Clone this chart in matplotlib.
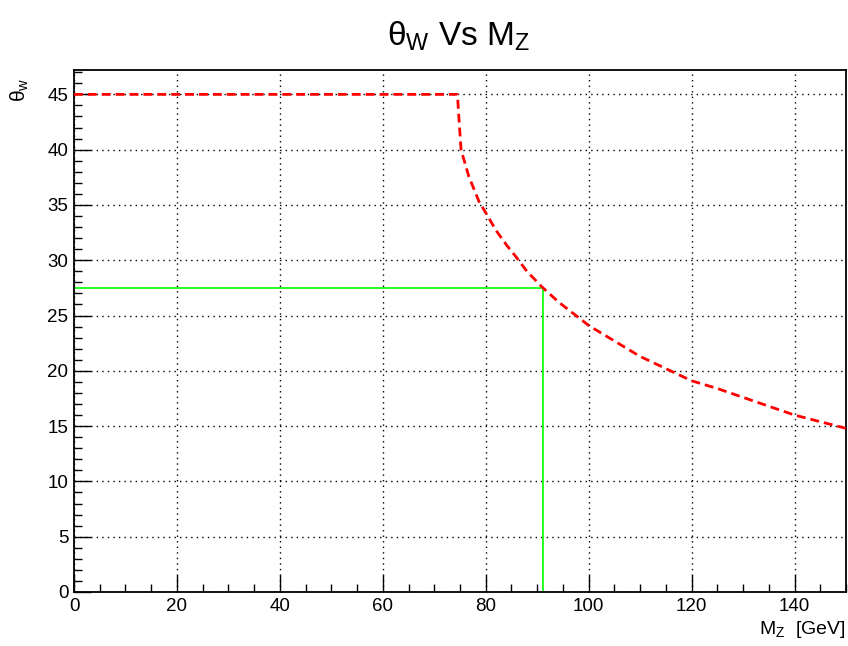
import matplotlib
matplotlib.use("Agg")
import matplotlib.pyplot as plt
from matplotlib.ticker import MultipleLocator

plt.rcParams['font.family'] = ['Liberation Sans', 'DejaVu Sans']
plt.rcParams['mathtext.fontset'] = 'custom'
plt.rcParams['mathtext.rm'] = 'Liberation Sans'
plt.rcParams['mathtext.it'] = 'Liberation Sans'

# Red curve: theta_W vs M_Z
mz = [0, 10, 20, 30, 40, 50, 60, 70, 74.5, 74.8, 75.2, 76.7, 78.7, 80, 82, 84, 85.9,
      88, 90.9, 94.2, 98.1, 100, 105, 110, 115, 120, 125, 130, 135, 140, 145, 150]
theta = [45, 45, 45, 45, 45, 45, 45, 45, 45, 42.8, 40, 37.6, 35.3, 34.3, 32.7, 31.4, 30.3,
         29.0, 27.6, 26.2, 24.8, 24.1, 22.7, 21.3, 20.2, 19.1, 18.4, 17.6, 16.8, 16.0, 15.4, 14.8]

# Green marker lines at the measured Z mass
mz_meas = 91.19
theta_meas = 27.5

fig = plt.figure(figsize=(8.48, 6.46), dpi=100)
ax = fig.add_axes([74/848, 1-592/646, (846-74)/848, (592-69.5)/646])

ax.plot(mz, theta, color='#ff0000', lw=2.0, linestyle=(0, (3.2, 1.8)), zorder=3)
ax.plot([0, mz_meas], [theta_meas, theta_meas], color='#00ff00', lw=1.2, zorder=2)
ax.plot([mz_meas, mz_meas], [0, theta_meas], color='#00ff00', lw=1.2, zorder=2)

ax.set_xlim(0, 150)
ax.set_ylim(0, 47.25)
ax.xaxis.set_major_locator(MultipleLocator(20))
ax.xaxis.set_minor_locator(MultipleLocator(5))
ax.yaxis.set_major_locator(MultipleLocator(5))
ax.yaxis.set_minor_locator(MultipleLocator(1))
ax.tick_params(which='both', direction='in', top=False, right=False, labelsize=13.5, color='black')
ax.tick_params(which='major', length=12, width=1.0, pad=4)
ax.tick_params(which='minor', length=6, width=1.0)
ax.grid(True, which='major', color='black', linestyle=(0, (1, 3)), lw=1.0)
for s in ax.spines.values():
    s.set_linewidth(1.3)
    s.set_color('black')

narrow = ['Liberation Sans Narrow', 'Liberation Sans', 'DejaVu Sans']
fig.text(0.541, 1-36/646, r'$\theta$$_{\mathrm{W}}$ Vs M$_{\mathrm{Z}}$', ha='center', va='center',
         fontsize=24, family=narrow, math_fontfamily='custom')
fig.text(20/848, 1-90/646, r'$\theta_{\mathrm{w}}$', rotation=90, ha='center', va='center', fontsize=15)
fig.text(846/848, 1-630/646, r'M$_{\mathrm{Z}}$  [GeV]', ha='right', va='center', fontsize=14)

fig.savefig('out.png', dpi=100)
